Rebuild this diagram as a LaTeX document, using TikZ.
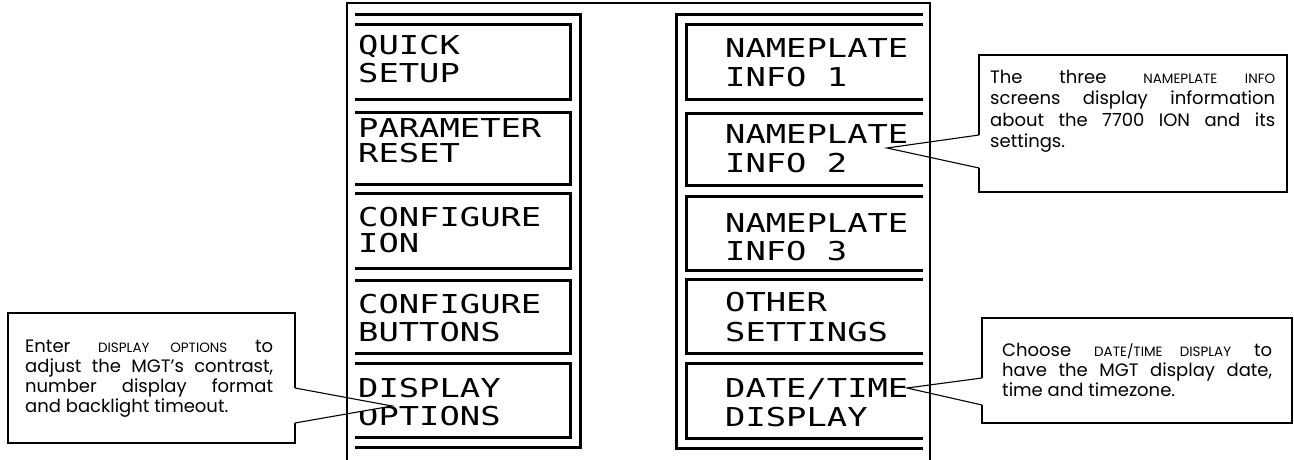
\documentclass[tikz,border=0pt]{standalone}
\usepackage{fontspec}
\setmainfont{Poppins}
\newfontfamily\lcdfont{DejaVu Sans Mono}
\usetikzlibrary{calc}
\newcommand\lcdw[1]{\scalebox{1.3}[1]{#1}}
\newcommand\fsc[1]{{\fontsize{13.5}{14}\selectfont #1}}
\tikzset{
  thk/.style={line width=3pt, line join=miter, line cap=butt},
  thin/.style={line width=1.1pt},
  lcd/.style={font=\lcdfont\fontsize{26}{26}\selectfont, inner sep=0pt, anchor=base west},
  callbox/.style={draw, line width=1.1pt, inner sep=0pt, fill=white},
  cline/.style={inner sep=0pt, anchor=base west, font=\fontsize{18}{20}\selectfont},
  ptrfill/.style={fill=white},
  ptr/.style={line width=1.1pt, line join=miter},
}
\begin{document}
\begin{tikzpicture}[x=1pt,y=-1pt]
\useasboundingbox[fill=white] (0,0) rectangle (1294,460);

% left screen panel
\draw[thk] (355,15) -- (580,15) -- (580,447) -- (355,447);
\foreach \t/\b in {25/100,112/184,193/268,280/353,363/437}
  \draw[thk] (355,\t) -- (570,\t) -- (570,\b) -- (355,\b);
% right screen panel
\draw[thk] (923,15) -- (676,15) -- (676,448) -- (923,448);
\foreach \t/\b in {25/100,113/185,196/270,279/353,363/438}
  \draw[thk] (923,\t) -- (686,\t) -- (686,\b) -- (923,\b);

% left texts
\node[lcd] (l1a) at (358,55) {\lcdw{QUICK}};
\node[lcd] (l1b) at (358,82) {\lcdw{SETUP}};
\node[lcd] (l2a) at (358,137) {\lcdw{PARAMETER}};
\node[lcd] (l2b) at (358,162) {\lcdw{RESET}};
\node[lcd] (l3a) at (358,226) {\lcdw{CONFIGURE}};
\node[lcd] (l3b) at (358,252) {\lcdw{ION}};
\node[lcd] (l4a) at (358,313) {\lcdw{CONFIGURE}};
\node[lcd] (l4b) at (358,341) {\lcdw{BUTTONS}};
\node[lcd] (l5a) at (358,397) {\lcdw{DISPLAY}};
\node[lcd] (l5b) at (358,425) {\lcdw{OPTIONS}};
% right texts
\node[lcd] (r1a) at (725,58) {\lcdw{NAMEPLATE}};
\node[lcd] (r1b) at (725,87) {\lcdw{INFO 1}};
\node[lcd] (r2a) at (725,143) {\lcdw{NAMEPLATE}};
\node[lcd] (r2b) at (725,172) {\lcdw{INFO 2}};
\node[lcd] (r3a) at (725,232) {\lcdw{NAMEPLATE}};
\node[lcd] (r3b) at (725,260) {\lcdw{INFO 3}};
\node[lcd] (r4a) at (725,311) {\lcdw{OTHER}};
\node[lcd] (r4b) at (725,341) {\lcdw{SETTINGS}};
\node[lcd] (r5a) at (725,397) {\lcdw{DATE/TIME}};
\node[lcd] (r5b) at (725,426) {\lcdw{DISPLAY}};

% callout: display options
\node[callbox, minimum width=287pt, minimum height=130pt] (cL) at (151.5,378) {};
\node[cline] (tL1) at (25,352)   {\makebox[248pt][s]{Enter \fsc{DISPLAY OPTIONS} to}};
\node[cline] (tL2) at (25,372)   {\makebox[248pt][s]{adjust the MGT’s contrast,}};
\node[cline] (tL3) at (25,392)   {\makebox[248pt][s]{number display format}};
\node[cline] (tL4) at (25,412)   {and backlight timeout.};
\coordinate (bL1) at (295,388);
\coordinate (bL2) at (295,423);
\coordinate (tipL) at (392,406);
\fill[ptrfill] ($(bL1)+(-1,0)$) -- (tipL) -- ($(bL2)+(-1,0)$) -- cycle;
\draw[ptr] (bL1) -- (tipL) -- (bL2);

% callout: nameplate info
\node[callbox, minimum width=308pt, minimum height=137pt] (cN) at (1133,123.5) {};
\node[cline] (tN1) at (990,84)  {\makebox[285pt][s]{The three \fsc{NAMEPLATE INFO}}};
\node[cline] (tN2) at (990,105) {\makebox[285pt][s]{screens display information}};
\node[cline] (tN3) at (990,126) {\makebox[285pt][s]{about the 7700 ION and its}};
\node[cline] (tN4) at (990,147) {settings.};
\coordinate (bN1) at (979,135);
\coordinate (bN2) at (979,168);
\coordinate (tipN) at (887,148);
\fill[ptrfill] ($(bN1)+(1,0)$) -- (tipN) -- ($(bN2)+(1,0)$) -- cycle;
\draw[ptr] (bN1) -- (tipN) -- (bN2);

% callout: date/time display
\node[callbox, minimum width=310pt, minimum height=105pt] (cD) at (1137,370.5) {};
\node[cline] (tD1) at (1002,356) {\makebox[270pt][s]{Choose \fsc{DATE/TIME DISPLAY} to}};
\node[cline] (tD2) at (1002,376) {\makebox[270pt][s]{have the MGT display date,}};
\node[cline] (tD3) at (1002,396) {time and timezone.};
\coordinate (bD1) at (982,378);
\coordinate (bD2) at (982,405);
\coordinate (tipD) at (907,388);
\fill[ptrfill] ($(bD1)+(1,0)$) -- (tipD) -- ($(bD2)+(1,0)$) -- cycle;
\draw[ptr] (bD1) -- (tipD) -- (bD2);

% outer thin frame
\draw[thin] (347,460) -- (347,3) -- (930,3) -- (930,460);
\end{tikzpicture}
\end{document}
